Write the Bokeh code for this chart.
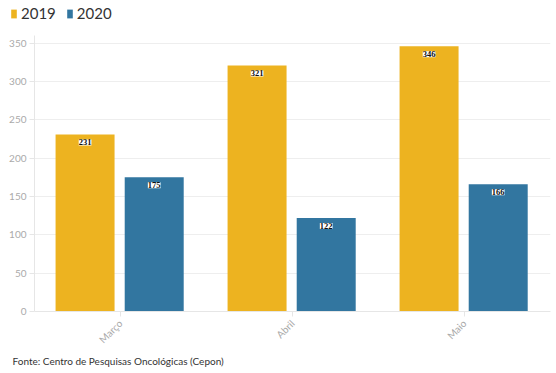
from bokeh.plotting import figure
from bokeh.models import ColumnDataSource, FactorRange, Range1d, Legend, LegendItem, LabelSet, Title, FixedTicker
from bokeh.layouts import column
from bokeh.transform import dodge
from bokeh.embed import file_html
from bokeh.resources import INLINE
import math

months = ["Março", "Abril", "Maio"]
v2019 = [231, 321, 346]
v2020 = [175, 122, 166]
series = ["2019", "2020"]
yticks = [0, 50, 100, 150, 200, 250, 300, 350]
source_text = "Fonte: Centro de Pesquisas Oncológicas (Cepon)"

C19 = "#EDB320"
C20 = "#3276A0"
FONT = "Lato"
LABEL_FONT = "Open Sans"

src = ColumnDataSource(dict(m=months, a=v2019, b=v2020,
                            la=[str(v) for v in v2019], lb=[str(v) for v in v2020]))

# ---- header figure holding the legend (bars lie outside its view; only legend shows) ----
h = figure(width=556, height=35, x_range=Range1d(0, 1), y_range=Range1d(0, 1),
           output_backend="svg", toolbar_location=None,
           min_border_left=0, min_border_right=0, min_border_top=0, min_border_bottom=0)
h.frame_align = False
h.axis.visible = False
h.grid.grid_line_color = None
h.outline_line_color = None
g1 = h.vbar(x="a", top="a", width=0.1, source=src, fill_color=C19, line_color=None)
g2 = h.vbar(x="b", top="b", width=0.1, source=src, fill_color=C20, line_color=None)
legend = Legend(items=[LegendItem(label=series[0], renderers=[g1]),
                       LegendItem(label=series[1], renderers=[g2])],
                orientation="horizontal", location=(10, 13),
                label_text_font=FONT, label_text_font_size="15px", label_text_color="#333333",
                glyph_width=7, glyph_height=11, label_height=14, label_standoff=4, spacing=10,
                padding=0, margin=0, border_line_color=None, background_fill_alpha=0)
h.add_layout(legend)

# ---- main chart ----
p = figure(x_range=FactorRange(*months), y_range=Range1d(0, 360),
           width=556, height=338, output_backend="svg", toolbar_location=None,
           min_border_left=34, min_border_right=6, min_border_top=0, min_border_bottom=62)
p.frame_align = False
p.outline_line_color = None
p.background_fill_color = "white"

OFF19, OFF20 = -0.206, 0.196
r1 = p.vbar(x=dodge("m", OFF19, range=p.x_range), top="a", width=0.343, source=src,
            fill_color=C19, line_color=None)
r2 = p.vbar(x=dodge("m", OFF20, range=p.x_range), top="b", width=0.343, source=src,
            fill_color=C20, line_color=None)

for col, lab, off in (("a", "la", OFF19), ("b", "lb", OFF20)):
    ls = LabelSet(x=dodge("m", off, range=p.x_range), y=col, text=lab, source=src,
                  y_offset=-8, text_align="center", text_baseline="middle",
                  text_font=LABEL_FONT, text_font_size="8.5px", text_font_style="bold",
                  text_color="#111111", background_fill_color="white")
    p.add_layout(ls)

p.xgrid.grid_line_color = None
p.ygrid.grid_line_color = "#eeeeee"
p.yaxis.ticker = FixedTicker(ticks=yticks)
for ax in (p.xaxis[0], p.yaxis[0]):
    ax.axis_line_color = "#e6e6e6"
    ax.major_tick_line_color = "#e6e6e6"
    ax.minor_tick_line_color = None
    ax.major_tick_out = 5
    ax.major_tick_in = 0
    ax.major_label_text_color = "#aaaaaa"
    ax.major_label_text_font = FONT
    ax.major_label_text_font_size = "10px"
p.xaxis.major_label_orientation = math.pi / 4
p.yaxis.major_label_standoff = 3

p.add_layout(Title(text=source_text, align="left", offset=-22, standoff=1,
                   text_font=FONT, text_font_size="10px", text_color="#333333",
                   text_font_style="normal"), "below")

layout = column(h, p, spacing=0)
open("out.html", "w").write(file_html(layout, INLINE))
